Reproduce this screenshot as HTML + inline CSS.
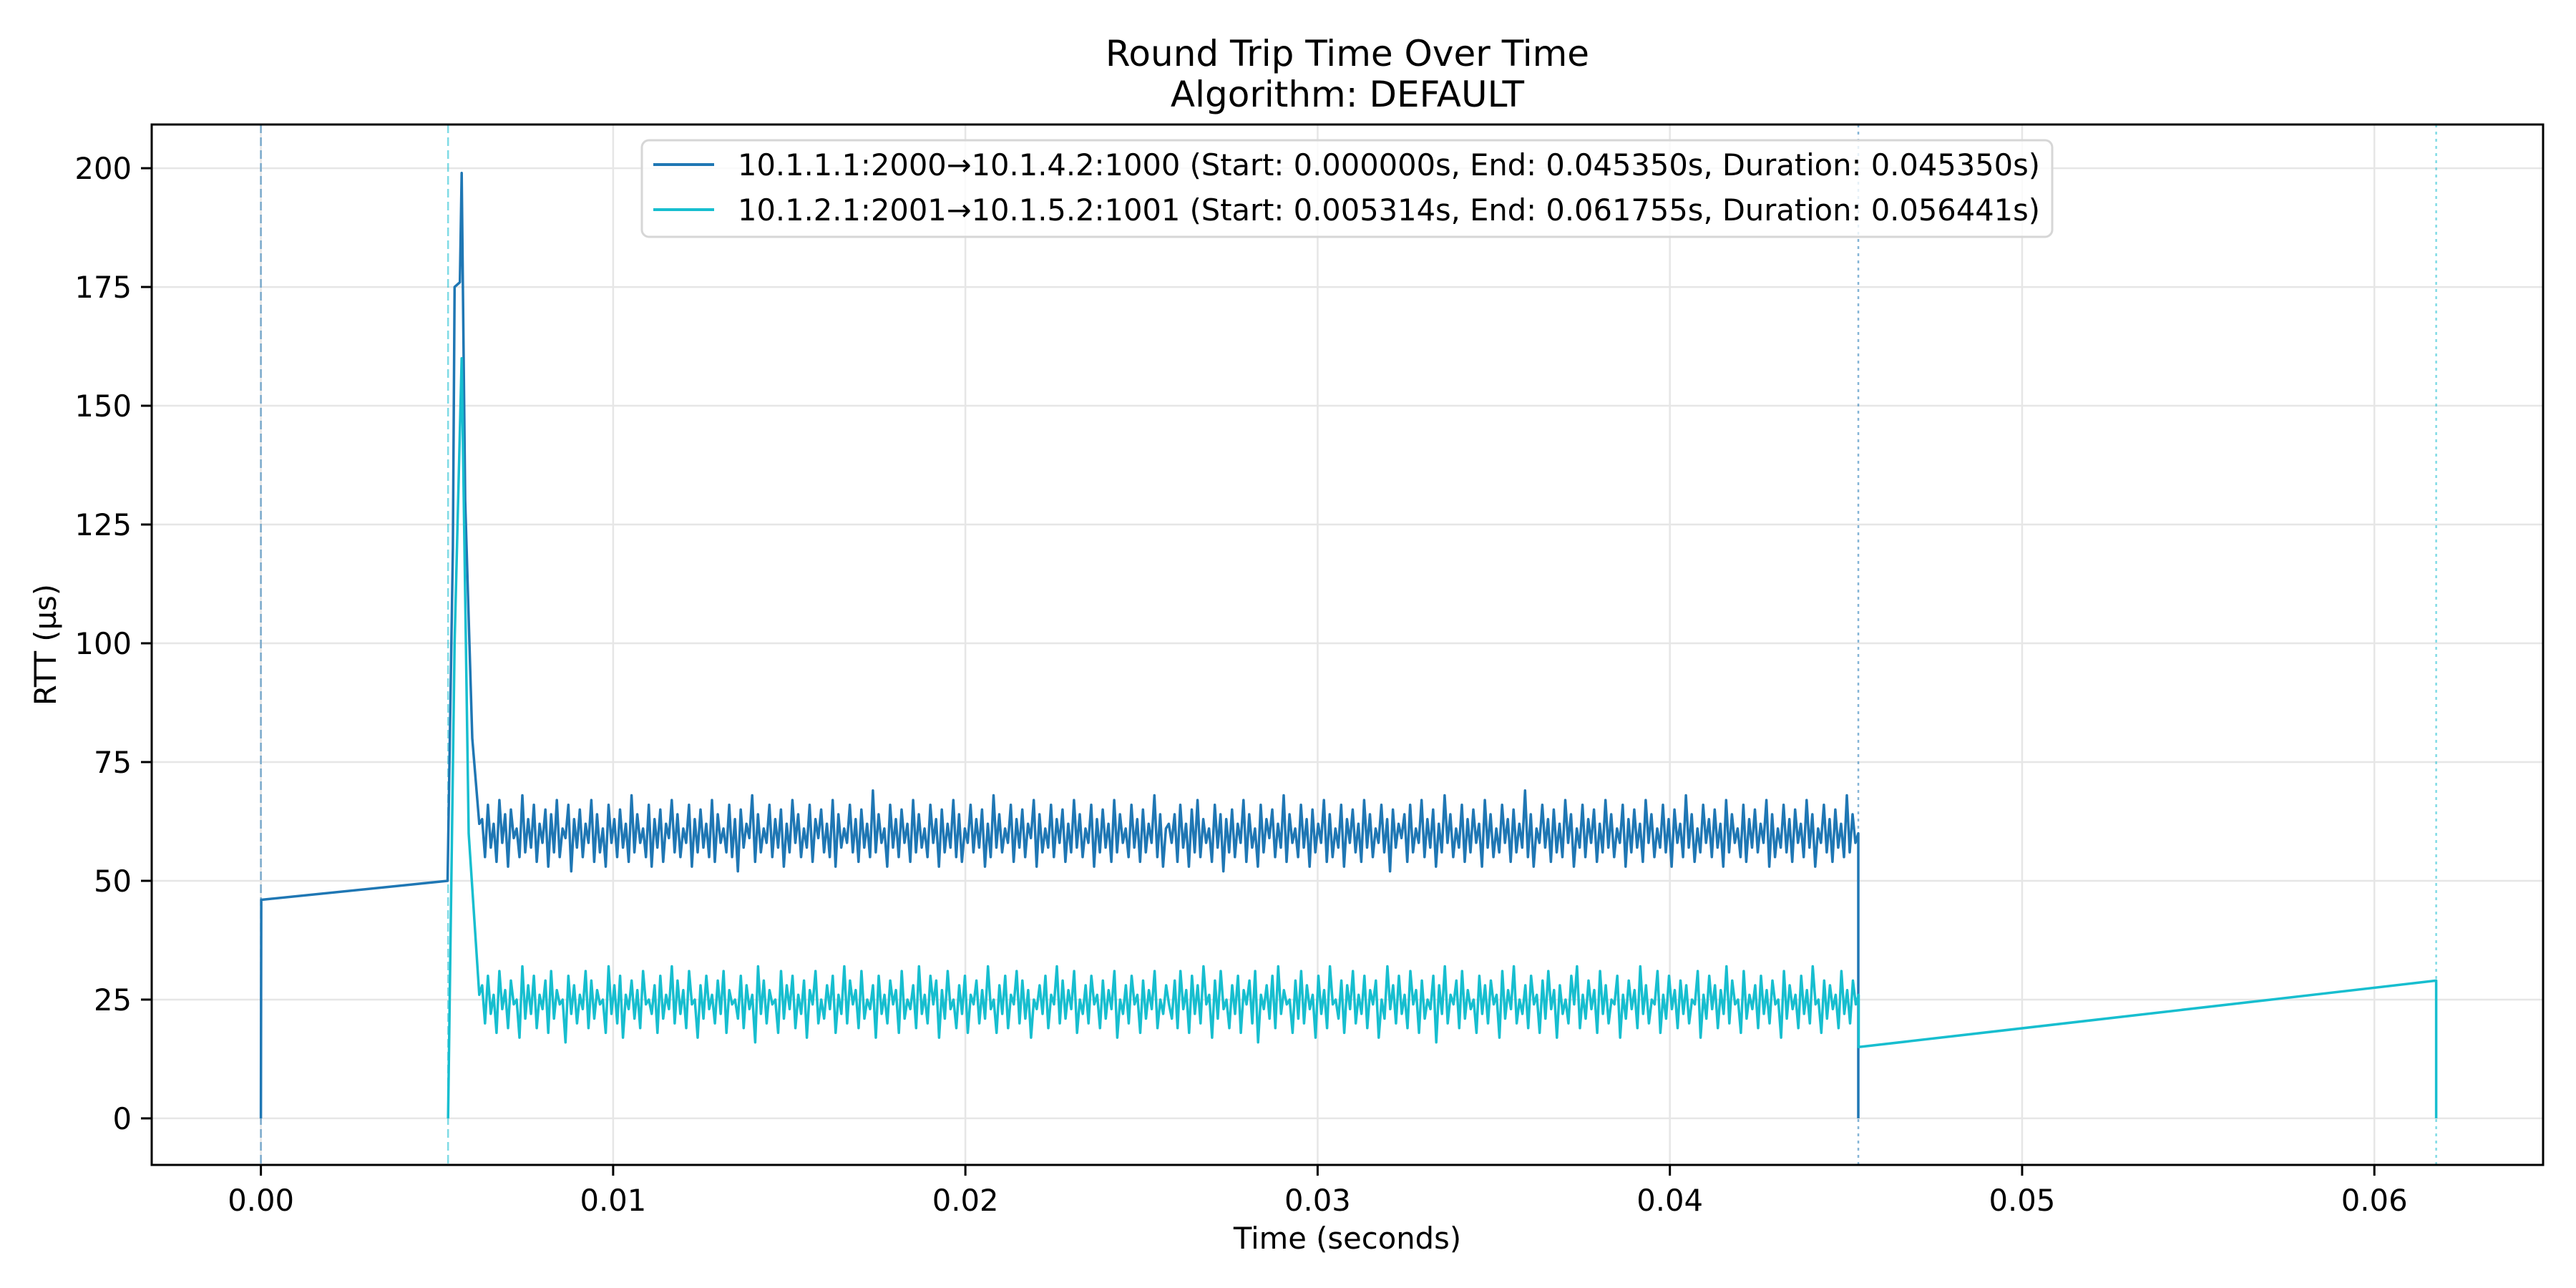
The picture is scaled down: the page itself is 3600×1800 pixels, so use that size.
<!DOCTYPE html>
<html><head><meta charset="utf-8"><style>
html,body{margin:0;padding:0;background:#fff;}
svg{display:block;font-family:"DejaVu Sans","Liberation Sans",sans-serif;}
</style></head><body>
<svg id="chart" width="3600" height="1800" viewBox="0 0 3600 1800">
<rect width="3600" height="1800" fill="#fff"/>
<text x="1883" y="92" font-size="50" text-anchor="middle">Round Trip Time Over Time</text>
<text x="1883" y="149" font-size="50" text-anchor="middle">Algorithm: DEFAULT</text>
<g id="grid"></g>
<g id="vlines"></g>
<g id="series"></g>
<rect x="212" y="174" width="3342" height="1454" fill="none" stroke="#000" stroke-width="3"/>
<g id="xticks"></g>
<g id="yticks"></g>
<text x="1883" y="1745" font-size="41.7" text-anchor="middle">Time (seconds)</text>
<text transform="translate(78,901) rotate(-90)" font-size="41.7" text-anchor="middle">RTT (µs)</text>
<g>
<rect x="897" y="196" width="1971" height="135" rx="10" fill="#fff" fill-opacity="0.8" stroke="#d6d6d6" stroke-width="3"/>
<line x1="913" y1="230" x2="998" y2="230" stroke="#1f77b4" stroke-width="4"/>
<text x="1031" y="245" font-size="41.7" textLength="1820" lengthAdjust="spacingAndGlyphs">10.1.1.1:2000→10.1.4.2:1000 (Start: 0.000000s, End: 0.045350s, Duration: 0.045350s)</text>
<line x1="913" y1="293" x2="998" y2="293" stroke="#17becf" stroke-width="4"/>
<text x="1031" y="308" font-size="41.7" textLength="1820" lengthAdjust="spacingAndGlyphs">10.1.2.1:2001→10.1.5.2:1001 (Start: 0.005314s, End: 0.061755s, Duration: 0.056441s)</text>
</g>
</svg>
<script>
const xTicks=[0,0.01,0.02,0.03,0.04,0.05,0.06];
const xTickLabels=["0.00","0.01","0.02","0.03","0.04","0.05","0.06"];
const yTicks=[0,25,50,75,100,125,150,175,200];
const flow1Start=0.0, flow1End=0.04535;
const flow2Start=0.005314, flow2End=0.061755;
const noiseStart=0.0062;
const flow1HeadT=[0,0.00001,0.0053,0.00545,0.0055,0.00565,0.0057,0.0058,0.0060,0.0062];
const flow1HeadV=[0,46,50,120,175,176,199,130,80,62];
const flow1Noise=[63,55,66,57,62,54,67,58,64,53,65,59,61,55,68,56,63,57,66,54,
62,58,65,53,64,56,67,55,61,59,66,52,63,57,65,55,62,58,67,54,
64,56,61,53,66,58,63,55,65,57,62,54,68,56,64,58,61,55,66,53,
63,57,65,54,62,59,67,56,64,55,61,58,66,53,63,56,65,57,62,55,
67,54,64,58,61,56,66,55,63,52,65,57,62,59,68,54,64,56,61,58,
66,55,63,57,65,53,62,56,67,58,64,55,61,57,66,54,63,59,65,56,
62,55,67,53,64,57,61,58,66,56,63,54,65,57,62,55,69,56,64,58,
61,53,66,57,63,55,65,58,62,54,67,56,64,57,61,55,66,58,63,53,
65,56,62,57,67,55,64,54,61,58,66,56,63,57,65,53,62,55,68,57,
64,56,61,58,66,54,63,57,65,55,62,59,67,53,64,56,61,57,66,55,
63,58,65,54,62,56,67,57,64,55,61,58,66,53,63,56,65,57,62,54,
67,56,64,58,61,55,66,57,63,54,65,56,62,58,68,55,64,53,61,62,
58,64,54,66,57,62,53,65,56,67,55,63,58,61,54,66,57,64,52,63,
56,65,55,62,58,67,54,64,57,61,53,66,56,63,59,65,55,62,57,68,
54,64,58,61,55,66,57,63,53,65,56,62,58,67,54,64,55,61,57,66,
53,63,58,65,56,62,54,67,57,64,55,61,58,66,56,63,52,65,57,62,
59,64,54,66,56,61,58,67,55,63,57,65,53,62,56,68,58,64,55,61,
57,66,54,63,56,65,58,62,53,67,57,64,55,61,56,66,58,63,54,65,
56,62,57,69,55,64,53,61,58,66,57,63,54,65,56,62,55,67,58,64,
53,61,57,66,55,63,58,65,54,62,56,67,57,64,55,61,58,66,53,63,
56,65,57,62,54,67,58,64,55,61,57,66,56,63,53,65,58,62,55,68,
57,64,54,61,56,66,58,63,55,65,57,62,53,67,56,64,58,61,55,66,
54,63,57,65,56,62,58,67,53,64,55,61,57,66,56,63,54,65,58,62,
55,67,57,64,53,61,58,66,56,63,54,65,57,62,55,68,56,64,58,60];
const flow1TailT=[0.04535];
const flow1TailV=[0];
const flow2HeadT=[0.005314,0.0055,0.0057,0.0059,0.0062];
const flow2HeadV=[0,100,160,60,26];
const flow2Noise=[28,20,30,22,26,18,31,23,27,19,29,24,25,17,32,21,28,22,30,19,
26,23,29,18,31,21,27,24,25,16,30,22,28,20,26,23,31,19,29,21,
27,24,25,18,32,22,28,20,30,17,26,23,29,21,27,19,31,24,25,22,
28,18,30,21,26,23,32,20,29,22,27,19,31,24,25,17,28,21,30,23,
26,20,29,22,31,18,27,24,25,21,30,19,28,23,26,16,32,22,29,20,
27,24,25,18,31,21,28,23,30,19,26,22,29,17,27,24,31,20,25,21,
28,23,30,18,26,22,32,20,29,24,27,19,31,21,25,23,28,17,30,22,
26,20,29,24,27,18,31,21,25,23,28,19,32,22,26,20,30,24,29,17,
27,21,31,23,25,19,28,22,30,18,26,24,29,20,27,21,32,23,25,18,
28,22,30,19,26,24,31,20,29,21,27,17,25,23,28,22,30,19,26,24,
32,20,29,21,27,23,31,18,25,22,28,20,30,24,26,19,29,21,27,23,
31,17,25,22,28,20,30,24,26,18,29,21,27,23,31,19,25,22,28,24,
21,29,19,31,23,27,18,30,22,28,20,32,24,26,17,29,21,31,23,25,
19,28,22,30,18,27,24,29,20,31,16,26,23,28,21,30,19,32,22,27,
24,25,18,29,21,31,20,28,23,26,17,30,22,27,19,32,24,25,21,29,
18,28,23,31,20,26,22,30,19,27,24,29,17,25,21,32,23,28,20,30,
22,26,19,31,24,27,18,29,21,25,23,30,16,28,22,32,20,26,24,29,
19,31,21,27,23,25,18,30,22,28,20,29,24,26,17,31,21,27,23,32,
20,25,22,28,19,30,24,26,18,29,21,31,23,27,17,28,22,25,20,30,
24,32,19,26,21,29,23,27,18,31,22,28,20,25,24,30,17,26,21,29,
23,27,19,32,22,28,20,25,24,31,18,26,21,30,23,27,19,29,22,28,
20,25,24,31,17,26,21,30,23,28,19,27,22,32,20,29,24,25,18,31,
21,26,23,28,19,30,22,27,20,29,24,25,17,31,21,28,23,26,19,30,
22,27,20,32,24,25,18,29,21,28,23,26,19,31,22,27,20,29,24,26];
const flow2TailT=[0.04536,0.061755,0.061756];
const flow2TailV=[15,29,0];

const X0=212,X1=3554,Y0=174,Y1=1628;
const xMin=-0.0031,xMax=0.06479,yMin=-9.8,yMax=209.2;
const sx=t=>X0+(t-xMin)/(xMax-xMin)*(X1-X0);
const sy=v=>Y1-(v-yMin)/(yMax-yMin)*(Y1-Y0);
const NS="http://www.w3.org/2000/svg";
function mk(tag,attrs,parent){const e=document.createElementNS(NS,tag);for(const k in attrs)e.setAttribute(k,attrs[k]);parent.appendChild(e);return e;}
const grid=document.getElementById('grid'),xt=document.getElementById('xticks'),yt=document.getElementById('yticks');
xTicks.forEach((t,i)=>{
 const g=mk('line',{x1:sx(t),x2:sx(t),y1:Y0,y2:Y1,stroke:'#e6e6e6','stroke-width':2.5},grid);
 
 
 const tk=mk('line',{x1:sx(t),x2:sx(t),y1:Y1,y2:Y1+15,stroke:'#000','stroke-width':3},xt);
 
 
 const lb=mk('text',{x:sx(t),y:Y1+64,'font-size':41.7,'text-anchor':'middle'},xt);
 lb.textContent=xTickLabels[i];
 
 
});
yTicks.forEach(v=>{
 const g=mk('line',{x1:X0,x2:X1,y1:sy(v),y2:sy(v),stroke:'#e6e6e6','stroke-width':2.5},grid);
 
 
 const tk=mk('line',{x1:X0-15,x2:X0,y1:sy(v),y2:sy(v),stroke:'#000','stroke-width':3},yt);
 
 
 const lb=mk('text',{x:X0-28,y:sy(v)+15,'font-size':41.7,'text-anchor':'end'},yt);
 lb.textContent=String(v);
 
 
});
const vl=document.getElementById('vlines');
[[flow1Start,'#1f77b4','12,6'],[flow2Start,'#17becf','12,6'],[flow1End,'#1f77b4','4,6'],[flow2End,'#17becf','4,6']].forEach(([t,c,d])=>{
 const l=mk('line',{x1:sx(t),x2:sx(t),y1:Y0,y2:Y1,stroke:c,'stroke-opacity':0.55,'stroke-width':2.5,'stroke-dasharray':d},vl);
 
 
});
function build(hT,hV,noise,tT,tV){
 const pts=[];hT.forEach((t,i)=>pts.push([t,hV[i]]));
 const end=tT[0];const dt=(end-noiseStart)/noise.length;
 noise.forEach((v,i)=>pts.push([noiseStart+(i+1)*dt,v]));
 tT.forEach((t,i)=>pts.push([t,tV[i]]));
 return pts.map((p,i)=>(i?'L':'M')+sx(p[0]).toFixed(1)+','+sy(p[1]).toFixed(1)).join('');
}
const sg=document.getElementById('series');
const p1=mk('path',{d:build(flow1HeadT,flow1HeadV,flow1Noise,flow1TailT,flow1TailV),fill:'none',stroke:'#1f77b4','stroke-width':3.5,'stroke-linejoin':'round'},sg);


const p2=mk('path',{d:build(flow2HeadT,flow2HeadV,flow2Noise,flow2TailT,flow2TailV),fill:'none',stroke:'#17becf','stroke-width':3.5,'stroke-linejoin':'round'},sg);


</script>
</body></html>
